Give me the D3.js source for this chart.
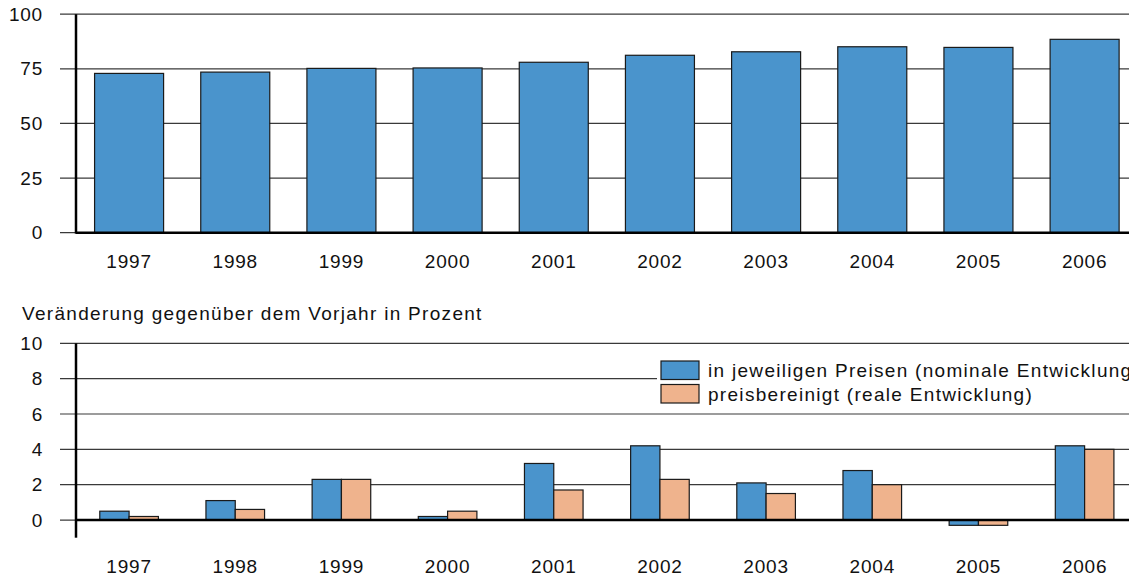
<!DOCTYPE html>
<html lang="de">
<head>
<meta charset="UTF-8">
<title>Entwicklung 1997-2006</title>
<script src="https://d3js.org/d3.v7.min.js"></script>
<style>
    body { margin: 0; background: #fff; }
    text { font-family: "Liberation Sans", Arial, sans-serif; fill: #111; }
    .lbl { font-size: 19px; letter-spacing: 0.8px; }
    .txt { font-size: 19px; letter-spacing: 1.3px; }
</style>
</head>
<body>
<svg width="1129" height="575"></svg>
<script>
// data
var years = ["1997", "1998", "1999", "2000", "2001", "2002", "2003", "2004", "2005", "2006"];
var level = [72.9, 73.5, 75.2, 75.4, 78.0, 81.2, 82.8, 85.1, 84.8, 88.5];
var nominal = [0.5, 1.1, 2.3, 0.2, 3.2, 4.2, 2.1, 2.8, -0.3, 4.2];
var real = [0.2, 0.6, 2.3, 0.5, 1.7, 2.3, 1.5, 2.0, -0.3, 4.0];
var topTicks = [0, 25, 50, 75, 100];
var botTicks = [0, 2, 4, 6, 8, 10];
var seriesNames = ["in jeweiligen Preisen (nominale Entwicklung)", "preisbereinigt (reale Entwicklung)"];
var subTitle = "Veränderung gegenüber dem Vorjahr in Prozent";

var blue = "#4a94cc", orange = "#efb38d";

var svg = d3.select("svg");
var W = 1129, left = 76, right = 1137.7;

// ---- top chart ----
var x = d3.scaleBand().domain(years).range([left, right]).paddingInner(0.35).paddingOuter(0.175);
var y = d3.scaleLinear().domain([0, 100]).range([232.7, 14.2]);

var topG = svg.append("g");

// gridlines
topG.selectAll(".grid").data(topTicks).enter().append("line")
    .attr("x1", 60).attr("x2", W)
    .attr("y1", function (d) { return y(d); }).attr("y2", function (d) { return y(d); })
    .attr("stroke", "#3a3a3a").attr("stroke-width", 1.2);

topG.append("g")
    .attr("transform", "translate(" + left + ",0)")
    .call(d3.axisLeft(y).tickValues(topTicks).tickSize(0).tickPadding(33))
    .call(function (g) { g.select(".domain").remove(); })
    .selectAll("text").attr("class", "lbl");

topG.selectAll(".bar").data(level).enter().append("rect")
    .attr("x", function (d, i) { return x(years[i]); })
    .attr("y", function (d) { return y(d); })
    .attr("width", x.bandwidth())
    .attr("height", function (d) { return y(0) - y(d); })
    .attr("fill", blue).attr("stroke", "#1a1a1a").attr("stroke-width", 1.2);

topG.append("g")
    .attr("transform", "translate(0," + y(0) + ")")
    .call(d3.axisBottom(x).tickSize(0).tickPadding(22))
    .call(function (g) { g.select(".domain").remove(); })
    .selectAll("text").attr("class", "lbl");

// axis lines
topG.append("line").attr("x1", left).attr("x2", W).attr("y1", y(0)).attr("y2", y(0))
    .attr("stroke", "#000").attr("stroke-width", 2.5);
topG.append("line").attr("x1", left).attr("x2", left).attr("y1", y(100)).attr("y2", y(0) + 1)
    .attr("stroke", "#000").attr("stroke-width", 2.5);

// ---- bottom chart ----
var x2 = d3.scaleBand().domain(years).range([left, right]).paddingInner(0.448).paddingOuter(0.224);
var xs = d3.scaleBand().domain([0, 1]).range([0, x2.bandwidth()]);
var y2 = d3.scaleLinear().domain([-1, 10]).range([537.7, 343.3]);

var bot = svg.append("g");

bot.append("text").attr("class", "txt").attr("x", 22).attr("y", 320).text(subTitle);

bot.selectAll(".grid").data(botTicks).enter().append("line")
    .attr("x1", 60).attr("x2", W)
    .attr("y1", function (d) { return y2(d); }).attr("y2", function (d) { return y2(d); })
    .attr("stroke", "#3a3a3a").attr("stroke-width", 1.2);

bot.append("g")
    .attr("transform", "translate(" + left + ",0)")
    .call(d3.axisLeft(y2).tickValues(botTicks).tickSize(0).tickPadding(33))
    .call(function (g) { g.select(".domain").remove(); })
    .selectAll("text").attr("class", "lbl");

// legend background hides the grid behind it
var legend = bot.append("g");
legend.append("rect").attr("x", 657).attr("y", 355).attr("width", W - 657).attr("height", 53).attr("fill", "#fff");
var colors = [blue, orange];
seriesNames.forEach(function (name, i) {
    legend.append("rect").attr("x", 661).attr("y", 361 + i * 23.5).attr("width", 38).attr("height", 18.5)
        .attr("fill", colors[i]).attr("stroke", "#1a1a1a").attr("stroke-width", 1.2);
    legend.append("text").attr("class", "txt").attr("x", 708).attr("y", 377 + i * 24).text(name);
});

var groups = bot.selectAll(".grp").data(years).enter().append("g")
    .attr("transform", function (d) { return "translate(" + x2(d) + ",0)"; });

groups.selectAll("rect")
    .data(function (d, i) { return [nominal[i], real[i]]; })
    .enter().append("rect")
    .attr("x", function (d, j) { return xs(j); })
    .attr("y", function (d) { return y2(Math.max(0, d)); })
    .attr("width", xs.bandwidth())
    .attr("height", function (d) { return Math.abs(y2(d) - y2(0)); })
    .attr("fill", function (d, j) { return colors[j]; })
    .attr("stroke", "#1a1a1a").attr("stroke-width", 1.2);

bot.append("g")
    .attr("transform", "translate(0," + y2(0) + ")")
    .call(d3.axisBottom(x2).tickSize(0).tickPadding(39))
    .call(function (g) { g.select(".domain").remove(); })
    .selectAll("text").attr("class", "lbl");

bot.append("line").attr("x1", left).attr("x2", W).attr("y1", y2(0)).attr("y2", y2(0))
    .attr("stroke", "#000").attr("stroke-width", 2.5);
bot.append("line").attr("x1", left).attr("x2", left).attr("y1", y2(10)).attr("y2", y2(-1))
    .attr("stroke", "#000").attr("stroke-width", 2.5);

// axis groups carry their own font attrs; drop them so the css applies
svg.selectAll("g").attr("font-family", null).attr("font-size", null);
</script>
</body>
</html>
